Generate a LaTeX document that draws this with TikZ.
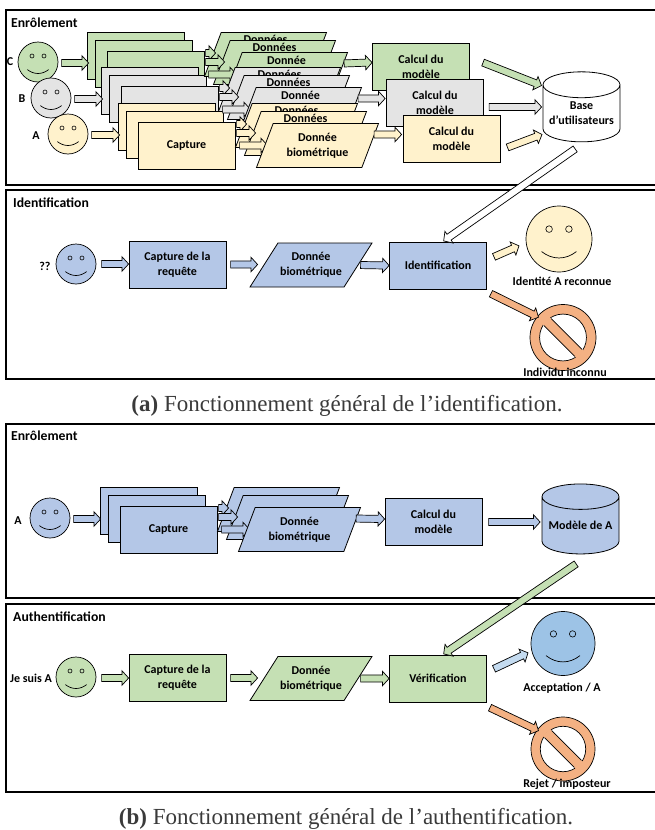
\documentclass[tikz,border=0pt]{standalone}
\usepackage{fontspec}
\setmainfont{Carlito}
\newfontfamily\legende{Liberation Serif}
\usetikzlibrary{calc,shapes.geometric,shapes.arrows}
\definecolor{vert}{HTML}{C5E0B4}
\definecolor{gris}{HTML}{E4E4E4}
\definecolor{jaune}{HTML}{FFF2CC}
\definecolor{bleu}{HTML}{B4C7E7}
\definecolor{ciel}{HTML}{9DC3E6}
\definecolor{orange}{HTML}{F4B183}
\definecolor{encre}{HTML}{3A3A3A}
\tikzset{
    cadre/.style={draw, line width=1.5pt},
    texte/.style={font=\fontsize{12}{15}\selectfont\bfseries, align=center, inner sep=0pt},
    titre/.style={font=\fontsize{13.7}{15}\selectfont\bfseries, anchor=west, inner sep=0pt},
    boite/.style={texte, draw, line width=.8pt, outer sep=0pt, minimum width=97pt, minimum height=47pt},
    para/.style={texte, draw, line width=.8pt, outer sep=0pt, trapezium, trapezium left angle=42, trapezium right angle=138, trapezium stretches body=true, minimum width=122pt, minimum height=44pt},
    tete/.style={draw, circle, line width=.7pt, inner sep=0pt, outer sep=0pt},
    cyl/.style={texte, draw, line width=.8pt, cylinder, shape border rotate=90, aspect=.4, minimum width=77pt, minimum height=70pt, fill=white},
    pointe/.style={draw, line width=.7pt, single arrow, inner sep=0pt, inner ysep=3.2pt, single arrow head extend=3.6pt, single arrow tip angle=95, anchor=center},
    legendebas/.style={font=\fontsize{23}{24}\selectfont\legende, text=encre, inner sep=0pt}
}
\newcounter{nfleche}
% fleche epaisse entre deux points
\newcommand\fleche[3]{
    \stepcounter{nfleche}
    \coordinate (fa) at ($#2$);
    \coordinate (fb) at ($#3$);
    \path let \p1=($(fb)-(fa)$), \n1={atan2(\y1,\x1)}, \n2={veclen(\x1,\y1)} in
        node[pointe, fill=#1, minimum height=\n2, rotate=\n1] (fl\arabic{nfleche}) at ($(fa)!.5!(fb)$) {};
}
% visage: nom, x, y, rayon, couleur
\newcommand\visage[5]{
    \node[tete, fill=#5, minimum size=2*#4] (#1) at (#2,#3) {};
    \draw[line width=.6pt, fill=#5] (#2-.3*#4,#3-.3*#4) circle[radius=.1*#4];
    \draw[line width=.6pt, fill=#5] (#2+.3*#4,#3-.3*#4) circle[radius=.1*#4];
    \draw[line width=.7pt] (#2-.53*#4,#3+.38*#4) .. controls (#2-.2*#4,#3+.64*#4) and (#2+.2*#4,#3+.64*#4) .. (#2+.53*#4,#3+.38*#4);
}
% panneau interdit: nom, x, y, rayon, couleur
\newcommand\interdit[5]{
    \node[tete, fill=#5, minimum size=2*#4] (#1) at (#2,#3) {};
    \node[tete, fill=white, minimum size=1.42*#4] (#1i) at (#2,#3) {};
    \begin{scope}[shift={(#2,#3)}, rotate=-45]
        \fill[#5] (-.74*#4,-5) rectangle (.74*#4,5);
        \draw[line width=.7pt] (-.66*#4,-5) -- (.66*#4,-5) (-.66*#4,5) -- (.66*#4,5);
    \end{scope}
}
% pile de captures: nom, x, y, couleur, texte
\newcommand\captures[5]{
    \node[boite, fill=#4, anchor=north west] (#1a) at (#2,#3) {};
    \node[boite, fill=#4, anchor=north west] (#1b) at (#2+8,#3+8) {};
    \node[boite, fill=#4, anchor=north west] (#1c) at (#2+20,#3+19) {#5};
}
% pile de donnees: nom, capture, couleur, texte du fond, texte, decalage
\newcommand\donnees[6]{
    \coordinate (#1o) at ($(#2c.center)+(131,0)$);
    \node[para, fill=#3] (#1a) at ($(#1o)+(-21,-20)$) {\strut};
    \node[texte] (#1ta) at ($(#1a.center)+(0,-15)$) {#4};
    \node[para, fill=#3] (#1b) at ($(#1o)+(-12,-12)$) {\strut};
    \node[texte] (#1tb) at ($(#1b.center)+(0,-15)$) {#4};
    \fleche{#3}{(#2c.east)+(0,-21.5)}{(#2c.east)+(10,-21.5)}
    \fleche{#3}{(#2c.east)+(0,-12.5)}{(#2c.east)+(19,-12.5)}
    \fleche{#3}{(#2c.east)+(3,0)}{(#2c.east)+(31,0)}
    \node[para, fill=#3] (#1c) at (#1o) {\strut};
    \node[texte] (#1tc) at ($(#1c.center)+(0,#6)$) {#5};
}
\begin{document}
\begin{tikzpicture}[x=1pt, y=-1pt]
    \useasboundingbox (0,0) rectangle (654,830);

    % Cadres
    \draw[cadre] (6,10) rectangle (670,185);
    \draw[cadre] (6,190) rectangle (670,379);
    \draw[cadre] (6,424) rectangle (670,598);
    \draw[cadre] (6,604) rectangle (670,792);

    \node[titre] (tEnrolA) at (11,22.5) {Enrôlement};
    \node[titre] (tIdent) at (13,202.5) {Identification};
    \node[titre] (tEnrolB) at (11,435.5) {Enrôlement};
    \node[titre] (tAuth) at (13,616.5) {Authentification};

    % Enrolement, identification
    \visage{smC}{38}{62}{20}{vert}
    \visage{smB}{51}{98}{20}{gris}
    \visage{smA}{68}{134}{20}{jaune}
    \node[texte] (lC) at (10,62) {C};
    \node[texte] (lB) at (22,99) {B};
    \node[texte] (lA) at (36,136) {A};

    \captures{capC}{87}{32}{vert}{}
    \captures{capB}{101}{67}{gris}{}
    \captures{capA}{118}{103}{jaune}{Capture}
    \fleche{vert}{(smC.east)+(2,1)}{(smC.east)+(29,1)}
    \fleche{gris}{(smB.east)+(2,1)}{(smB.east)+(30,1)}
    \fleche{jaune}{(smA.east)+(2,1)}{(smA.east)+(30,1)}

    \donnees{donC}{capC}{vert}{Données}{Donnée}{-14}
    \donnees{donB}{capB}{gris}{Données}{Donnée}{-14}
    \donnees{donA}{capA}{jaune}{Données}{Donnée\\biométrique}{0}

    \node[boite, fill=vert] (calC) at (421,66.5) {};
    \node[texte] (calCt) at (421,67) {Calcul du\\modèle};
    \node[boite, fill=gris] (calB) at (435,102.5) {};
    \node[texte] (calBt) at (435,102.5) {Calcul du\\modèle};
    \node[boite, fill=jaune] (calA) at (451.5,138.5) {Calcul du\\modèle};
    \fleche{vert}{(donCc.center)+(56,-11)}{(calC.west)+(-2,-4)}
    \fleche{gris}{(donBc.center)+(56,-11)}{(calB.west)+(-3,-4)}
    \fleche{jaune}{(donAc.center)+(55,-11)}{(calA.west)+(-3,-4)}

    \node[cyl] (base) at (581.5,113.5) {Base\\d’utilisateurs};
    \fleche{vert}{(calC.east)+(12,-4.5)}{(base.center)+(-41.5,-28.5)}
    \fleche{gris}{(calB.east)+(4,4.5)}{(base.center)+(-41.5,-6.5)}
    \fleche{jaune}{(calA.east)+(6,9.5)}{(base.center)+(-41,21.5)}

    % Identification
    \node[texte] (lQ) at (45,266) {??};
    \visage{smQ}{76}{264}{20}{bleu}
    \node[boite, fill=bleu] (capQ) at (177.5,264.5) {Capture de la\\requête};
    \node[para, fill=bleu] (donQ) at (311,265) {Donnée\\biométrique};
    \node[boite, fill=bleu] (ident) at (438,265.5) {Identification};
    \fleche{bleu}{(smQ.east)+(4,0)}{(smQ.east -| capQ.west)+(-2,0)}
    \fleche{bleu}{(capQ.east)+(3,0)}{(capQ.east)+(30,0)}
    \fleche{bleu}{(donQ.center)+(48,0)}{(ident.west)+(-2,0)}
    \fleche{white}{(base.center)+(-5,34.5)}{(ident.north)+(7,-2)}
    \visage{smR}{559}{239}{33}{jaune}
    \interdit{noI}{563}{337.5}{33}{orange}
    \node[texte] (lR) at (562,281) {Identité A reconnue};
    \node[texte] (lI) at (565,372) {Individu inconnu};
    \fleche{jaune}{(ident.east)+(6,-8)}{(ident.east)+(31,-19)}
    \fleche{orange}{(ident.north east)+(3,51)}{(noI.center)+(-26,-21)}

    % Enrolement, authentification
    \node[texte] (lV) at (18,521) {A};
    \visage{smV}{50}{518}{20}{bleu}
    \captures{capV}{100}{487}{bleu}{Capture}
    \donnees{donV}{capV}{bleu}{}{Donnée\\biométrique}{0}
    \fleche{bleu}{(smV.east)+(2,1)}{(smV.east)+(29,1)}
    \node[boite, fill=bleu] (calV) at (433.5,522) {Calcul du\\modèle};
    \fleche{bleu}{(donVc.center)+(55,-11)}{(calV.west)+(-2,-3)}
    \node[cyl, fill=bleu] (modV) at (580.5,525.5) {Modèle de A};
    \fleche{bleu}{(calV.east)+(5,0)}{(modV.center)+(-42,-3.5)}

    % Authentification
    \node[texte] (lJ) at (31,678) {Je suis A};
    \visage{smJ}{76}{677}{20}{vert}
    \node[boite, fill=vert] (capJ) at (177.5,678) {Capture de la\\requête};
    \node[para, fill=vert] (donJ) at (311,678.5) {Donnée\\biométrique};
    \node[boite, fill=vert] (verif) at (438,678.5) {Vérification};
    \fleche{vert}{(smJ.east)+(4,1)}{(smJ.east -| capJ.west)+(-2,1)}
    \fleche{vert}{(capJ.east)+(3,0)}{(capJ.east)+(30,0)}
    \fleche{vert}{(donJ.center)+(48,0)}{(verif.west)+(-2,0)}
    \fleche{vert}{(modV.center)+(-3,37.5)}{(verif.north)+(7,-2)}
    \visage{smO}{563}{643.5}{32}{ciel}
    \interdit{noJ}{563}{749}{32}{orange}
    \node[texte] (lO) at (562,688) {Acceptation / A};
    \node[texte] (lJr) at (567,784) {Rejet / imposteur};
    \fleche{ciel!60!white}{(verif.east)+(6,-9)}{(verif.east)+(40,-25)}
    \fleche{orange}{(verif.north east)+(2,52)}{(noJ.center)+(-26,-19)}

    % Legendes
    \node[legendebas] (legA) at (347,405.5) {\textbf{(a)} Fonctionnement général de l’identification.};
    \node[legendebas] (legB) at (346,819) {\textbf{(b)} Fonctionnement général de l’authentification.};
\end{tikzpicture}
\end{document}
